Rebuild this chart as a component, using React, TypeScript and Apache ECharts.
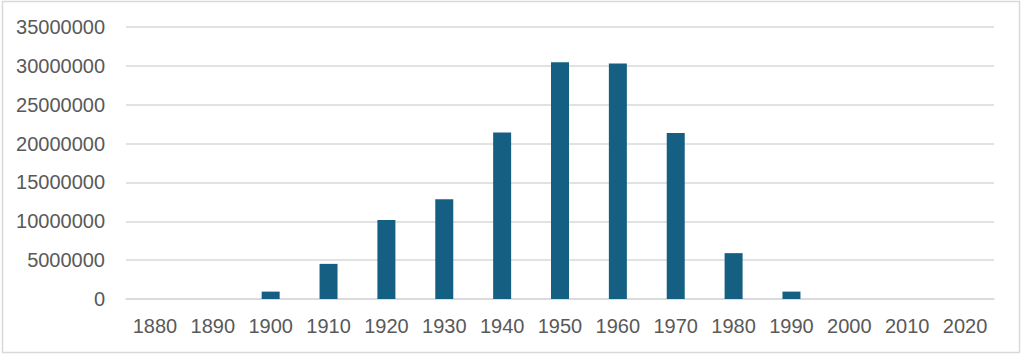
import React, { useEffect, useRef } from "react";
import * as echarts from "echarts";

const categories = ["1880", "1890", "1900", "1910", "1920", "1930", "1940", "1950", "1960", "1970", "1980", "1990", "2000", "2010", "2020"];
const values = [0, 0, 950000, 4520000, 10160000, 12820000, 21440000, 30470000, 30300000, 21350000, 5900000, 950000, 0, 0, 0];

export default function App() {
  const ref = useRef<HTMLDivElement>(null);
  useEffect(() => {
    if (!ref.current) return;
    const chart = echarts.init(ref.current, undefined, { renderer: "svg" });
    const font = "'Liberation Sans', Arial, sans-serif";
    chart.setOption({
      animation: false,
      backgroundColor: "#ffffff",
      graphic: [
        {
          type: "rect",
          shape: { x: 2.5, y: 1.5, width: 1017, height: 351 },
          style: { fill: "none", stroke: "#d9d9d9", lineWidth: 1.5 },
          silent: true,
        },
      ],
      grid: { left: 126, right: 30, top: 27, bottom: 58, containLabel: false },
      xAxis: {
        type: "category",
        data: categories,
        axisLine: { show: true, lineStyle: { color: "#d9d9d9", width: 1.5 } },
        axisTick: { show: false },
        axisLabel: { color: "#595959", fontSize: 20, fontFamily: font, margin: 17 },
      },
      yAxis: {
        type: "value",
        min: 0,
        max: 35000000,
        interval: 5000000,
        axisLine: { show: false },
        axisTick: { show: false },
        splitLine: { lineStyle: { color: "#d9d9d9", width: 1.5 } },
        axisLabel: {
          color: "#595959",
          fontSize: 20,
          fontFamily: font,
          margin: 21,
          formatter: (v: number) => String(v),
        },
      },
      series: [
        {
          type: "bar",
          data: values,
          barWidth: 18,
          itemStyle: { color: "#156082" },
        },
      ],
    });
    return () => chart.dispose();
  }, []);
  return <div ref={ref} style={{ position: "fixed", left: 0, top: 0, width: 1024, height: 357 }} />;
}
